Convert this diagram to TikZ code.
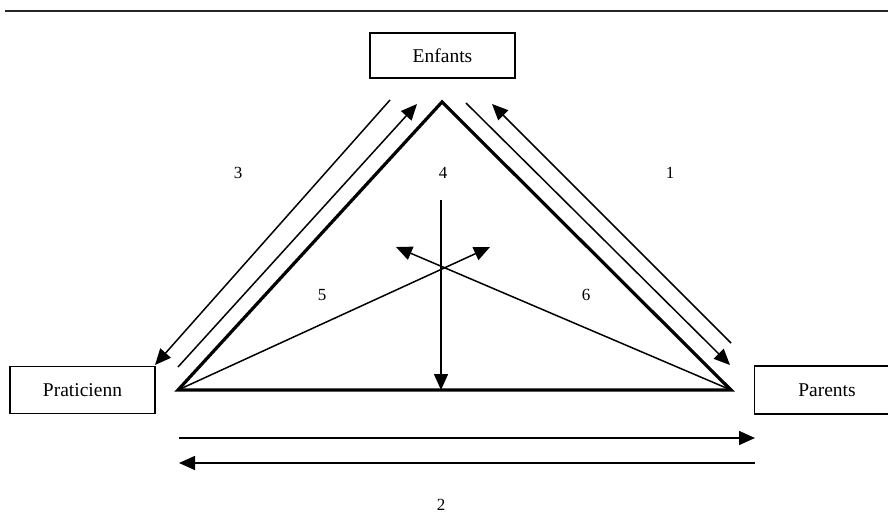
\documentclass[tikz,border=0pt]{standalone}
\usepackage{fontspec}
\setmainfont{Liberation Serif}
\usetikzlibrary{arrows.meta}
\begin{document}
\begin{tikzpicture}[x=1pt,y=-1pt,
  arr/.style={line width=1.5pt,-{Triangle[length=16pt,width=14pt]}},
  lnthick/.style={line width=3.2pt,line join=miter},
  box/.style={draw,line width=1.4pt,minimum width=145pt,minimum height=45pt,inner sep=0pt,font=\fontsize{19.5}{23}\selectfont},
  lab/.style={font=\fontsize{17}{20}\selectfont,inner sep=0pt}]
\useasboundingbox (0,0) rectangle (888,518);
% top rule
\coordinate (ruleL) at (5,11);
\coordinate (ruleR) at (888,11);
\draw[line width=2pt,black!85] (ruleL) -- (ruleR);
% boxes
\node[box] (enf) at (442.5,55.5) {Enfants};
\node[box,minimum height=47pt] (pra) at (82.5,390) {Praticienn};
\node[box,minimum height=48pt] (par) at (827,390) {Parents};
% triangle
\coordinate (A) at (442,102);
\coordinate (L) at (178,390);
\coordinate (R) at (731,390);
\draw[lnthick] (L) -- (A) -- (R) -- cycle;
% vertical arrow 4
\coordinate (v1) at (441,200);
\coordinate (v2) at (441,390);
\draw[arr] (v1) -- (v2);
% crossing arrows 5 and 6
\coordinate (t5) at (490,247);
\coordinate (t6) at (396,247);
\draw[arr] (L) -- (t5);
\draw[arr] (R) -- (t6);
% left side pair (3)
\coordinate (lo1) at (390,100);
\coordinate (lo2) at (155,365);
\draw[arr] (lo1) -- (lo2);
\coordinate (li1) at (178,367);
\coordinate (li2) at (417,104);
\draw[arr] (li1) -- (li2);
% right side pair (1)
\coordinate (ri1) at (466,103);
\coordinate (ri2) at (730,365);
\draw[arr] (ri1) -- (ri2);
\coordinate (ro1) at (731,343);
\coordinate (ro2) at (492,104);
\draw[arr] (ro1) -- (ro2);
% bottom pair (2)
\coordinate (b1) at (179,438);
\coordinate (b2) at (755,438);
\draw[arr] (b1) -- (b2);
\coordinate (c1) at (755,463);
\coordinate (c2) at (179,463);
\draw[arr] (c1) -- (c2);
% labels
\node[lab] (n3) at (238,173) {3};
\node[lab] (n4) at (443,173) {4};
\node[lab] (n1) at (670,173) {1};
\node[lab] (n5) at (322,295) {5};
\node[lab] (n6) at (586,295) {6};
\node[lab] (n2) at (441,505) {2};
\end{tikzpicture}
\end{document}
